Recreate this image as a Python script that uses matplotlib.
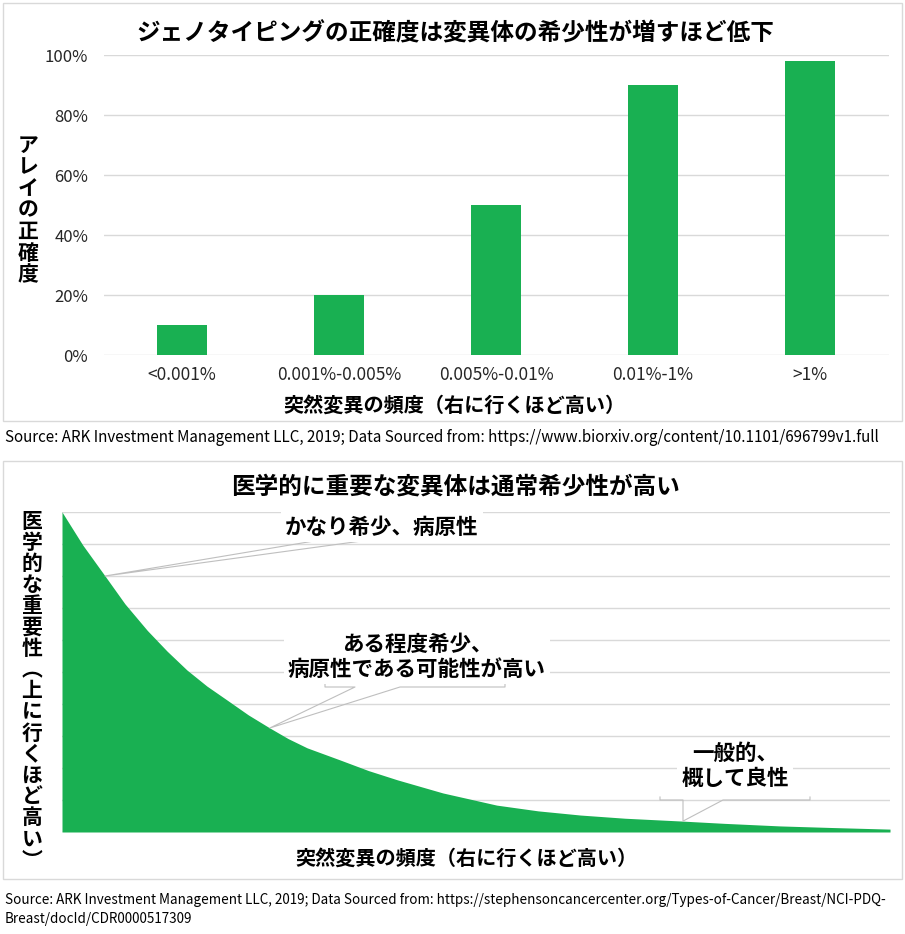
import numpy as np
import matplotlib.pyplot as plt
from matplotlib.patches import Rectangle
from matplotlib.lines import Line2D

plt.rcParams['font.family'] = ['Noto Sans CJK JP', 'DejaVu Sans']

# ---- data ----
bar_categories = ['<0.001%', '0.001%-0.005%', '0.005%-0.01%', '0.01%-1%', '>1%']
bar_values = [10, 20, 50, 90, 98]

# curve (x: 0-100 left to right, y: 0-100 bottom to top)
curve_x = [0, 2.5, 5.2, 7.6, 10.3, 12.7, 15.1, 17.5, 19.9, 22.5, 25.1, 27.3, 29.6,
           33.6, 37.0, 40.5, 46.0, 52.5, 57.5, 62.6, 68.0, 75.0, 80.0, 86.7, 93.0, 100]
curve_y = [100, 89.7, 80, 71.3, 63, 56.5, 50.6, 45.6, 41.3, 36.6, 32.5, 29.2, 26.3,
           22.5, 19.2, 16.3, 12.2, 8.4, 6.6, 5.3, 4.3, 3.4, 2.7, 1.9, 1.4, 0.9]

title1 = 'ジェノタイピングの正確度は変異体の希少性が増すほど低下'
title2 = '医学的に重要な変異体は通常希少性が高い'
xlabel = '突然変異の頻度（右に行くほど高い）'
ylabel1 = 'アレイの正確度'
ylabel2 = '医学的な重要性︵上に行くほど高い︶'
source1 = 'Source: ARK Investment Management LLC, 2019; Data Sourced from: https://www.biorxiv.org/content/10.1101/696799v1.full'
source2 = ('Source: ARK Investment Management LLC, 2019; Data Sourced from: https://stephensoncancercenter.org/Types-of-Cancer/Breast/NCI-PDQ-\n'
           'Breast/docId/CDR0000517309')

notes = ['かなり希少、病原性', 'ある程度希少、\n病原性である可能性が高い', '一般的、\n概して良性']
note_xy = [(5.2, 80), (25.1, 32.5), (75.0, 3.4)]

GREEN = '#19b052'
GRID = '#d9d9d9'

W, H = 905, 934
fig = plt.figure(figsize=(W / 100, H / 100), dpi=100)


def fx(px):
    return px / W


def fy(py):
    return 1 - py / H


# panel frames
for top, bot in [(3, 421), (461, 879)]:
    fig.patches.append(Rectangle((fx(3), fy(bot)), fx(899), (bot - top) / H,
                                 transform=fig.transFigure, fill=False, ec=GRID, lw=1))

# ---- top panel: bar chart ----
ax1 = fig.add_axes([fx(103.5), fy(355), fx(785), 300 / H])
ax1.bar(range(len(bar_values)), bar_values, width=0.32, color=GREEN, zorder=3)
ax1.set_xlim(-0.5, 4.5)
ax1.set_ylim(0, 100)
ax1.set_yticks(range(0, 101, 20))
ax1.set_yticklabels([f'{v}%' for v in range(0, 101, 20)])
ax1.set_xticks(range(len(bar_categories)))
ax1.set_xticklabels(bar_categories)
ax1.yaxis.grid(True, color=GRID, lw=1)
ax1.set_axisbelow(True)
for s in ax1.spines.values():
    s.set_visible(False)
ax1.tick_params(axis='y', length=0, labelsize=12, pad=11, labelcolor='#262626')
ax1.tick_params(axis='x', length=0, labelsize=12.5, pad=8, labelcolor='#262626')

fig.text(fx(455), fy(33), title1, ha='center', va='center', fontsize=17, weight='bold')
fig.text(fx(455), fy(405), xlabel, ha='center', va='center', fontsize=14.5, weight='bold')
for i, ch in enumerate(ylabel1):
    fig.text(fx(28), fy(145 + i * 21.7), ch, ha='center', va='center', fontsize=15, weight='bold')

fig.text(fx(5), fy(437), source1, ha='left', va='center', fontsize=10.9)

# ---- bottom panel: area chart ----
ax2 = fig.add_axes([fx(62), fy(832), fx(828), 320 / H])
ax2.fill_between(curve_x, curve_y, 0, color=GREEN, lw=0, zorder=2)
ax2.set_xlim(0, 100)
ax2.set_ylim(0, 100)
ax2.set_yticks(range(0, 101, 10))
ax2.set_xticks([])
ax2.yaxis.grid(True, color=GRID, lw=1)
ax2.set_axisbelow(True)
ax2.tick_params(length=0, labelleft=False)
for s in ax2.spines.values():
    s.set_visible(False)

fig.text(fx(455), fy(487), title2, ha='center', va='center', fontsize=17, weight='bold')
fig.text(fx(467), fy(858), xlabel, ha='center', va='center', fontsize=14.5, weight='bold')
for i, ch in enumerate(ylabel2):
    fig.text(fx(32), fy(521 + i * 21.2), ch, ha='center', va='center', fontsize=15, weight='bold')

# callouts: text box + bracket along its bottom + two lines to the point
note_pos = [(382, 527), (417, 657), (735, 766)]
# left end, wedge base 1, wedge base 2, right end, bottom y (pixels)
note_box = [(297, 320, 369, 476, 540), (325, 355, 400, 505, 687), (660, 683, 723, 810, 800)]
for txt, xy, pos, box in zip(notes, note_xy, note_pos, note_box):
    fig.text(fx(pos[0]), fy(pos[1]), txt, ha='center', va='center', fontsize=15.5,
             weight='bold', linespacing=1.25,
             bbox=dict(boxstyle='square,pad=0.2', fc='white', ec='none'))
    tip = fig.transFigure.inverted().transform(ax2.transData.transform(xy))
    left, b1, b2, right, yb = box
    xs = [fx(left), fx(left), fx(b1), tip[0], fx(b2), fx(right), fx(right)]
    ys = [fy(yb - 3), fy(yb), fy(yb), tip[1], fy(yb), fy(yb), fy(yb - 3)]
    fig.add_artist(Line2D(xs, ys, transform=fig.transFigure, color='#bfbfbf', lw=0.8))

fig.text(fx(5), fy(893), source2, ha='left', va='top', fontsize=9.7, linespacing=1.45)

fig.savefig('out.png', dpi=100, facecolor='white')
